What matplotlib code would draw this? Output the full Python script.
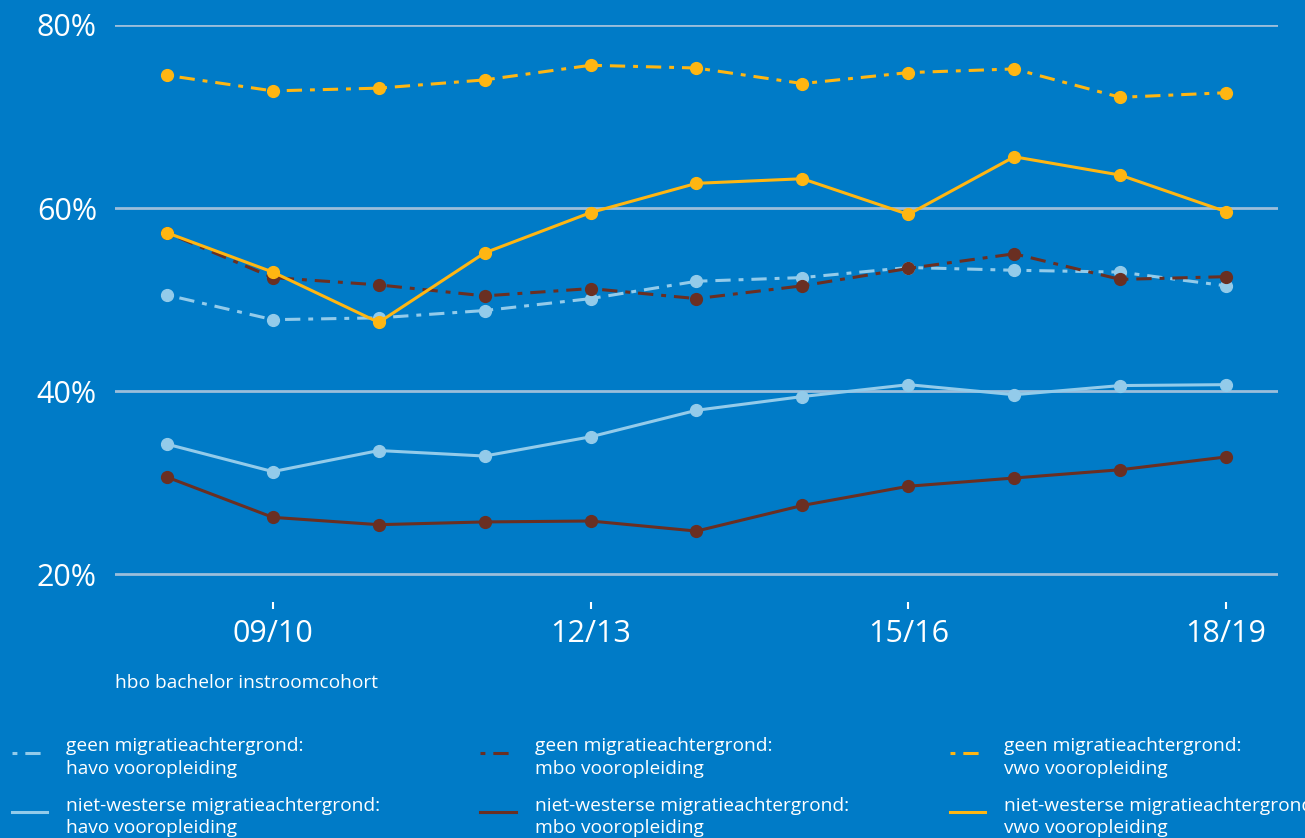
import matplotlib
matplotlib.use("Agg")
import matplotlib.pyplot as plt
from matplotlib.lines import Line2D

plt.rcParams['font.family'] = ['Open Sans', 'DejaVu Sans']

cohorts = ["08/09", "09/10", "10/11", "11/12", "12/13", "13/14", "14/15", "15/16", "16/17", "17/18", "18/19"]
tick_labels = ["09/10", "12/13", "15/16", "18/19"]

geen_havo = [50.5, 47.8, 48.0, 48.8, 50.1, 52.0, 52.4, 53.5, 53.2, 53.0, 51.5]
niet_havo = [34.2, 31.2, 33.5, 32.9, 35.0, 37.9, 39.4, 40.7, 39.6, 40.6, 40.7]
geen_mbo = [57.3, 52.4, 51.6, 50.4, 51.2, 50.1, 51.5, 53.4, 55.0, 52.2, 52.5]
niet_mbo = [30.6, 26.2, 25.4, 25.7, 25.8, 24.7, 27.5, 29.6, 30.5, 31.4, 32.8]
geen_vwo = [74.5, 72.8, 73.1, 74.0, 75.6, 75.3, 73.6, 74.8, 75.2, 72.1, 72.6]
niet_vwo = [57.3, 53.0, 47.5, 55.1, 59.5, 62.7, 63.2, 59.3, 65.6, 63.6, 59.6]

labels = [
    "geen migratieachtergrond:\nhavo vooropleiding",
    "niet-westerse migratieachtergrond:\nhavo vooropleiding",
    "geen migratieachtergrond:\nmbo vooropleiding",
    "niet-westerse migratieachtergrond:\nmbo vooropleiding",
    "geen migratieachtergrond:\nvwo vooropleiding",
    "niet-westerse migratieachtergrond:\nvwo vooropleiding",
]

BG = "#007BC7"
LIGHT = "#93CBEA"
BROWN = "#6A2F22"
ORANGE = "#FFB612"
GRID = "#9BBEDB"

W, H = 1305, 838
fig = plt.figure(figsize=(W / 100, H / 100), dpi=100, facecolor=BG)
ax = fig.add_axes([115 / W, 1 - 602 / H, (1278 - 115) / W, (602 - 25) / H])
ax.set_facecolor(BG)

x = list(range(len(cohorts)))
dash_pat = (1.6, 2.6, 5.0, 2.6)
series = [
    (geen_havo, LIGHT, dash_pat),
    (niet_havo, LIGHT, None),
    (geen_mbo, BROWN, dash_pat),
    (niet_mbo, BROWN, None),
    (geen_vwo, ORANGE, dash_pat),
    (niet_vwo, ORANGE, None),
]
handles = []
for i in range(6):
    vals, col, dp = series[i]
    kw = dict(color=col, lw=2.2, marker='o', ms=8.5, mec=col, mfc=col, clip_on=False, zorder=3)
    if dp is not None:
        ln, = ax.plot(x, vals, dashes=dp, **kw)
    else:
        ln, = ax.plot(x, vals, **kw)
    handles.append(ln)

ax.set_xlim(-0.49, 10.49)
ax.set_ylim(16.95, 80)
ax.set_yticks([20, 40, 60, 80])
ax.set_yticklabels(["20%", "40%", "60%", "80%"])
ax.set_xticks([cohorts.index(t) for t in tick_labels])
ax.set_xticklabels(tick_labels)
for s in ax.spines.values():
    s.set_visible(False)
ax.grid(axis='y', color=GRID, lw=2, zorder=1)
ax.set_axisbelow(True)
ax.tick_params(axis='y', length=0, pad=13, labelsize=22, labelcolor='white')
ax.tick_params(axis='x', length=5, width=1.5, color='white', direction='out', pad=7,
               labelsize=22, labelcolor='white')

fig.text(115 / W, 1 - 683 / H, "hbo bachelor instroomcohort", color='white', fontsize=13.8,
         va='center', ha='left')

# legend
col_x = [(12, 47, 66), (480, 516, 535), (950, 985, 1004)]
row_y = [(753, 745, 770), (812, 805, 829)]
for idx in range(6):
    c = idx // 2
    r = idx % 2
    hx0, hx1, tx = col_x[c]
    hy, t1, t2 = row_y[r]
    h = handles[idx]
    ln = Line2D([hx0 / W, hx1 / W], [1 - hy / H, 1 - hy / H], transform=fig.transFigure,
                color=h.get_color(), lw=2.2)
    if idx % 2 == 0:
        ln.set_dashes((1.6, 2.6, 5.0, 2.6))
    fig.add_artist(ln)
    fig.text(tx / W, 1 - ((t1 + t2) / 2) / H, labels[idx], color='white', fontsize=13.8,
             va='center', ha='left', linespacing=1.35)

fig.savefig("out.png", dpi=100, facecolor=BG)
